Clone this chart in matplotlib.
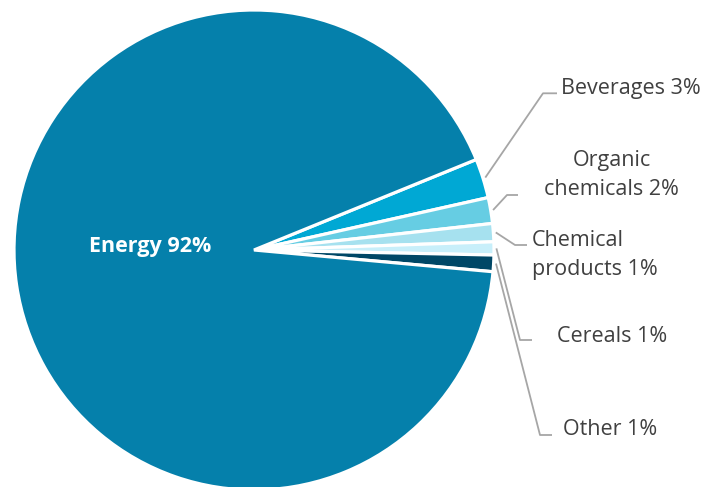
import matplotlib
matplotlib.use("Agg")
import matplotlib.pyplot as plt
import numpy as np

plt.rcParams['font.family'] = ['Open Sans', 'DejaVu Sans']

# slice data (clockwise from the top edge of Beverages)
categories = ['Beverages', 'Organic\nchemicals', 'Chemical\nproducts', 'Cereals', 'Other', 'Energy']
shares = [2.65, 1.74, 1.22, 0.88, 1.11, 92.4]
colors = ['#00A8D4', '#66CDE3', '#A6E1EF', '#C8EFFA', '#004766', '#0580AB']

# label layout in pixel space (y up): text x, last-line baseline y, ha, elbow, line end
label_pos = [
    (561, 392.7, 'left', (543, 393.7), (557, 393.7)),
    (611.5, 292, 'center', (507, 292), (518, 292)),
    (532, 212, 'left', (515, 242), (527, 242)),
    (557, 145.3, 'left', (520, 147), (532, 147)),
    (563, 52, 'left', (540, 52), (552, 52)),
]

fig = plt.figure(figsize=(7.05, 4.87), dpi=100)
ax = fig.add_axes([0, 0, 1, 1])
cx, cy, r = 254, 237, 240
wedges, _ = ax.pie(shares, colors=colors, startangle=22.16, counterclock=False,
                   center=(cx, cy), radius=r,
                   wedgeprops=dict(edgecolor='white', linewidth=2.3))
ax.set_xlim(0, 705)
ax.set_ylim(0, 487)
ax.set_aspect('equal')
ax.axis('off')

for w, name, val, pos in zip(wedges[:5], categories[:5], shares[:5], label_pos):
    mid = np.deg2rad((w.theta1 + w.theta2) / 2)
    x0 = cx + r * 1.01 * np.cos(mid)
    y0 = cy + r * 1.01 * np.sin(mid)
    tx, ty, ha, elbow, end = pos
    ax.plot([x0, elbow[0], end[0]], [y0, elbow[1], end[1]],
            color='#A6A6A6', lw=1.3, solid_capstyle='butt')
    ax.text(tx, ty, f"{name} {round(val)}%", ha=ha, va='baseline',
            multialignment=ha, fontsize=15.5, color='#404040', linespacing=1.5)

ax.text(150.5, 235.3, f"{categories[5]} {round(shares[5])}%", ha='center', va='baseline',
        fontsize=15.5, fontweight='bold', color='white')

fig.savefig('out.png', dpi=100)
